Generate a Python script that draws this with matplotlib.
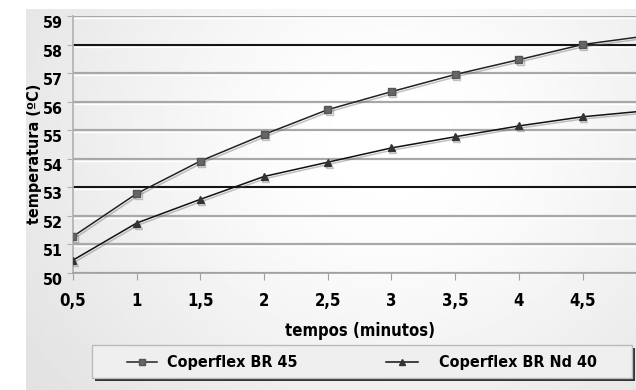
import numpy as np
import matplotlib.pyplot as plt
import matplotlib.patheffects as pe
from matplotlib.patches import Rectangle
from matplotlib.lines import Line2D

plt.rcParams['font.family'] = ['DejaVu Sans']
plt.rcParams['font.weight'] = 'bold'
plt.rcParams['font.stretch'] = 'condensed'

minutes = [0.5, 1, 1.5, 2, 2.5, 3, 3.5, 4, 4.5, 5]
br45 = [51.28, 52.78, 53.92, 54.85, 55.72, 56.35, 56.95, 57.47, 58.0, 58.3]
brnd40 = [50.45, 51.75, 52.58, 53.38, 53.88, 54.38, 54.77, 55.15, 55.47, 55.68]
x_ticks = [0.5, 1, 1.5, 2, 2.5, 3, 3.5, 4, 4.5]
x_labels = ['0,5', '1', '1,5', '2', '2,5', '3', '3,5', '4', '4,5']
y_ticks = list(range(50, 60))
dark_lines = [53, 58]

fig = plt.figure(figsize=(6.36, 3.9), dpi=100)

# gradient panel behind the chart
bg = fig.add_axes([26 / 636, 0, 1 - 26 / 636, 1 - 9 / 390], zorder=0)
gx, gy = np.meshgrid(np.linspace(0, 1, 300), np.linspace(0, 1, 200))
shade = 0.84 + 0.16 * np.exp(-((gx - 0.6) ** 2 / 0.45 + (gy - 0.35) ** 2 / 0.9))
bg.imshow(shade, cmap='gray', vmin=0, vmax=1, aspect='auto', extent=[0, 1, 0, 1])
bg.axis('off')

ax = fig.add_axes([73 / 636, 1 - 273 / 390, 1 - 73 / 636, (273 - 16) / 390], zorder=1)
ax.patch.set_alpha(0)
ax.set_xlim(0.5, 4.92)
ax.set_ylim(50, 59)

for y in y_ticks:
    ax.axhline(y, color='#a8a8a8', lw=1.6, zorder=1)
    ax.axhline(y - 0.07, color='white', lw=1.0, zorder=1)
for y in dark_lines:
    ax.axhline(y, color='#111111', lw=1.4, zorder=2)

shadow = [pe.SimpleLineShadow(offset=(1, -1.5), shadow_color='#666666', alpha=0.4), pe.Normal()]
ax.plot(minutes, br45, color='#222222', lw=1.1, marker='s', ms=5,
        mfc='#666666', mec='#555555', zorder=4, path_effects=shadow)
ax.plot(minutes, brnd40, color='#111111', lw=1.1, marker='^', ms=5,
        mfc='#333333', mec='#333333', zorder=4, path_effects=shadow)

for s in ['top', 'right']:
    ax.spines[s].set_visible(False)
ax.spines['left'].set_color('#b0b0b0')
ax.spines['bottom'].set_color('#a0a0a0')
ax.spines['left'].set_linewidth(1.2)
ax.spines['bottom'].set_linewidth(1.2)

ax.set_xticks(x_ticks)
ax.set_xticklabels(x_labels, fontsize=12, fontweight='bold')
ax.set_yticks(y_ticks)
ax.set_yticklabels([str(v) for v in y_ticks], fontsize=11.5, fontweight='bold', va='top')
ax.tick_params(axis='x', length=5, color='#a0a0a0', pad=9)
ax.tick_params(axis='y', length=4, color='#b0b0b0', pad=3)

ax.set_xlabel('tempos (minutos)', fontsize=12, fontweight='bold')
ax.xaxis.set_label_coords((360 - 73) / (636 - 73), -0.19)
ax.set_ylabel('temperatura (ºC)', fontsize=11.5, fontweight='bold')
ax.yaxis.set_label_coords(-(73 - 42) / (636 - 73), 0.465)

# legend box
lx0, ly0, lw_, lh = 92 / 636, 1 - 378 / 390, (632 - 92) / 636, 33 / 390
fig.patches.append(Rectangle((lx0 + 0.004, ly0 - 0.008), lw_, lh, transform=fig.transFigure,
                             facecolor='#333333', edgecolor='none', zorder=2))
fig.patches.append(Rectangle((lx0, ly0), lw_, lh, transform=fig.transFigure,
                             facecolor='#efefef', edgecolor='#bbbbbb', lw=1, zorder=3))
yc = 1 - 362 / 390
fig.lines.append(Line2D([127 / 636, 157 / 636], [yc, yc], transform=fig.transFigure,
                        color='#222222', lw=1.1, zorder=4))
fig.lines.append(Line2D([142 / 636], [yc], transform=fig.transFigure,
                        color='#222222', marker='s', ms=5, mfc='#666666', mec='#555555', zorder=5))
fig.lines.append(Line2D([386 / 636, 418 / 636], [yc, yc], transform=fig.transFigure,
                        color='#111111', lw=1.1, zorder=4))
fig.lines.append(Line2D([402 / 636], [yc], transform=fig.transFigure,
                        color='#111111', marker='^', ms=5, mfc='#333333', mec='#333333', zorder=5))
fig.text(167 / 636, yc, 'Coperflex BR 45', fontsize=11.5, fontweight='bold', va='center', zorder=5)
fig.text(439 / 636, yc, 'Coperflex BR Nd 40', fontsize=11.5, fontweight='bold', va='center', zorder=5)

fig.savefig('out.png', dpi=100)
